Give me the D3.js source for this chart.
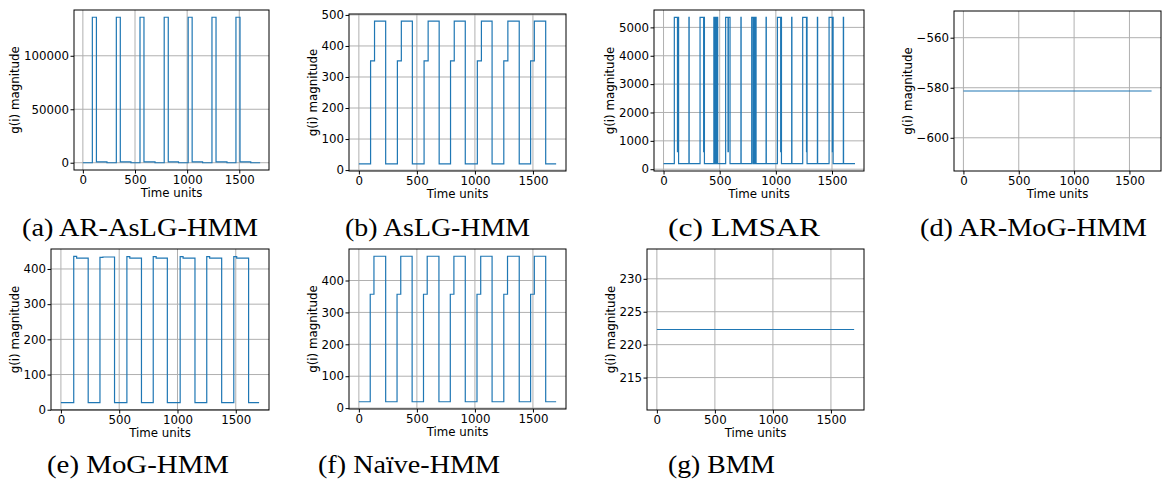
<!DOCTYPE html>
<html><head><meta charset="utf-8">
<script src="https://cdn.jsdelivr.net/npm/d3@7"></script>
<style>body{margin:0;background:#fff} svg{display:block;background:#fff}</style>
</head><body><svg id="c" width="1163" height="484"></svg>
<script>
// ---------- data (breakpoints of step series: time, value) ----------
const timeTicks = [0, 500, 1000, 1500];
const timeTickLabels = ["0", "500", "1000", "1500"];

// (a) AR-AsLG-HMM
const aTimes  = [0, 91, 130, 231, 321, 359, 461, 548, 586, 692, 780, 819, 917, 1010, 1048, 1148, 1238, 1277, 1382, 1468, 1507, 1610, 1700];
const aValues = [0, 136000, 800, 0, 136000, 800, 0, 136000, 800, 0, 136000, 800, 0, 136000, 800, 0, 136000, 800, 0, 136000, 800, 0, 0];
const aYTicks = [0, 50000, 100000];
const aYTickLabels = ["0", "50000", "100000"];

// (b) AsLG-HMM
const bTimes  = [0, 101, 135, 231, 332, 366, 461, 562, 597, 692, 790, 822, 917, 1021, 1056, 1148, 1249, 1284, 1382, 1480, 1512, 1610, 1700];
const bValues = [20, 352, 480, 20, 352, 480, 20, 352, 480, 20, 352, 480, 20, 352, 480, 20, 352, 480, 20, 352, 480, 20, 20];
const bYTicks = [0, 100, 200, 300, 400, 500];
const bYTickLabels = ["0", "100", "200", "300", "400", "500"];

// (c) LMSAR
const cTimes  = [0, 96, 124, 127, 134, 226, 228, 325, 357, 359, 364,
                 448, 450, 452, 454, 456, 458, 460, 462, 464, 466, 468, 470, 472, 474, 476, 478, 480, 482,
                 553, 574, 577, 592, 689, 691,
                 785, 797, 799, 802, 804, 806, 808, 810, 812, 814, 816, 818, 820, 824,
                 913, 915, 1014, 1043, 1045, 1050, 1141, 1143, 1239, 1273, 1275, 1278, 1370, 1372,
                 1474, 1503, 1505, 1510, 1601, 1603, 1705];
const cValues = [195, 5355, 615, 5355, 195, 5355, 195, 5355, 615, 5355, 195,
                 5355, 195, 5355, 195, 5355, 195, 5355, 195, 5355, 195, 5355, 195, 5355, 195, 5355, 195, 5355, 195,
                 5355, 615, 5355, 195, 5355, 195,
                 5355, 195, 5355, 195, 5355, 195, 5355, 195, 5355, 195, 5355, 195, 5355, 195,
                 5355, 195, 5355, 615, 5355, 195, 5355, 195, 5355, 615, 5355, 195, 5355, 195,
                 5355, 615, 5355, 195, 5355, 195, 195];
const cYTicks = [0, 1000, 2000, 3000, 4000, 5000];
const cYTickLabels = ["0", "1000", "2000", "3000", "4000", "5000"];

// (d) AR-MoG-HMM
const dTimes  = [0, 1700];
const dValues = [-581.3, -581.3];
const dYTicks = [-600, -580, -560];
const dYTickLabels = ["\u2212600", "\u2212580", "\u2212560"];

// (e) MoG-HMM
const eTimes  = [0, 110, 135, 234, 335, 360, 460, 566, 591, 691, 792, 817, 913, 1023, 1048, 1150, 1251, 1276, 1379, 1483, 1508, 1610, 1700];
const eValues = [20, 436, 431, 20, 433, 434, 20, 435, 431, 20, 435, 431, 20, 435, 431, 20, 435, 431, 20, 435, 431, 20, 20];
const eYTicks = [0, 100, 200, 300, 400];
const eYTickLabels = ["0", "100", "200", "300", "400"];

// (f) Naïve-HMM
const fTimes  = [0, 98, 130, 231, 329, 361, 459, 557, 589, 690, 788, 819, 917, 1018, 1050, 1148, 1249, 1281, 1382, 1480, 1512, 1610, 1700];
const fValues = [20, 357, 476, 20, 357, 476, 20, 357, 476, 20, 357, 476, 20, 357, 476, 20, 357, 476, 20, 357, 476, 20, 20];
const fYTicks = [0, 100, 200, 300, 400];
const fYTickLabels = ["0", "100", "200", "300", "400"];

// (g) BMM
const gTimes  = [0, 1700];
const gValues = [222.3, 222.3];
const gYTicks = [215, 220, 225, 230];
const gYTickLabels = ["215", "220", "225", "230"];

const captions = ["(a) AR-AsLG-HMM", "(b) AsLG-HMM", "(c) LMSAR", "(d) AR-MoG-HMM", "(e) MoG-HMM", "(f) Na\u00efve-HMM", "(g) BMM"];

// ---------- layout ----------
const panels = [
  {t: aTimes, v: aValues, yt: aYTicks, yl: aYTickLabels, L: 74,  R: 269,  T: 10,  B: 170, cap: captions[0], cx: 140,   cy: 236, cw: 236},
  {t: bTimes, v: bValues, yt: bYTicks, yl: bYTickLabels, L: 349, R: 566,  T: 14,  B: 171, cap: captions[1], cx: 437.5, cy: 236, cw: 185},
  {t: cTimes, v: cValues, yt: cYTicks, yl: cYTickLabels, L: 654, R: 864,  T: 10,  B: 171, cap: captions[2], cx: 744,   cy: 236, cw: 152},
  {t: dTimes, v: dValues, yt: dYTicks, yl: dYTickLabels, L: 954, R: 1161, T: 11,  B: 171, cap: captions[3], cx: 1033.5, cy: 236, cw: 227},
  {t: eTimes, v: eValues, yt: eYTicks, yl: eYTickLabels, L: 51,  R: 269,  T: 249, B: 410, cap: captions[4], cx: 138,   cy: 473, cw: 182},
  {t: fTimes, v: fValues, yt: fYTicks, yl: fYTickLabels, L: 349, R: 566,  T: 249, B: 409, cap: captions[5], cx: 409,   cy: 473, cw: 182},
  {t: gTimes, v: gValues, yt: gYTicks, yl: gYTickLabels, L: 647, R: 864,  T: 249, B: 410, cap: captions[6], cx: 721.5, cy: 473, cw: 107}
];

const svg = d3.select("#c");
const FONT = "'DejaVu Sans', sans-serif";
const FS = 11.8;

function yDomain(vals) {
  let lo = d3.min(vals), hi = d3.max(vals);
  if (lo === hi) { const e = Math.abs(lo) * 0.05 || 1; lo -= e; hi += e; }
  const p = (hi - lo) * 0.05;
  return [lo - p, hi + p];
}

panels.forEach(p => {
  const g = svg.append("g");
  const x = d3.scaleLinear().domain([-85, 1785]).range([p.L, p.R]);
  const y = d3.scaleLinear().domain(yDomain(p.v)).range([p.B, p.T]);

  // grid
  g.selectAll(".gx").data(timeTicks).join("line")
    .attr("x1", d => x(d)).attr("x2", d => x(d)).attr("y1", p.T).attr("y2", p.B)
    .attr("stroke", "#b0b0b0").attr("stroke-width", 1);
  g.selectAll(".gy").data(p.yt).join("line")
    .attr("y1", d => y(d)).attr("y2", d => y(d)).attr("x1", p.L).attr("x2", p.R)
    .attr("stroke", "#b0b0b0").attr("stroke-width", 1);

  // data line
  const pts = p.t.map((t, i) => [t, p.v[i]]);
  g.append("path").datum(pts)
    .attr("d", d3.line().x(d => x(d[0])).y(d => y(d[1])).curve(d3.curveStepAfter))
    .attr("fill", "none").attr("stroke", "#1f77b4").attr("stroke-width", 1.2);

  // axes
  const xa = g.append("g").attr("transform", `translate(0,${p.B})`)
    .call(d3.axisBottom(x).tickValues(timeTicks).tickFormat((d, i) => timeTickLabels[i]).tickSize(3.5).tickPadding(2.2));
  const ya = g.append("g").attr("transform", `translate(${p.L},0)`)
    .call(d3.axisLeft(y).tickValues(p.yt).tickFormat((d, i) => p.yl[i]).tickSize(3.5).tickPadding(1.5));
  [xa, ya].forEach(a => {
    a.select(".domain").remove();
    a.selectAll("text").attr("font-family", FONT).attr("font-size", FS).attr("fill", "#000");
    a.selectAll("line").attr("stroke", "#000").attr("stroke-width", 1);
  });
  let maxw = 0;
  ya.selectAll("text").each(function () { maxw = Math.max(maxw, this.getComputedTextLength()); });

  // spines
  g.append("rect").attr("x", p.L).attr("y", p.T).attr("width", p.R - p.L).attr("height", p.B - p.T)
    .attr("fill", "none").attr("stroke", "#000").attr("stroke-width", 1);

  // labels
  g.append("text").attr("x", (p.L + p.R) / 2).attr("y", p.B + 26.5)
    .attr("text-anchor", "middle").attr("font-family", FONT).attr("font-size", FS).text("Time units");
  const lx = p.L - 5 - maxw - 8.5;
  g.append("text").attr("transform", `translate(${lx},${(p.T + p.B) / 2}) rotate(-90)`)
    .attr("text-anchor", "middle").attr("dominant-baseline", "central")
    .attr("font-family", FONT).attr("font-size", FS).text("g(i) magnitude");

  // caption
  svg.append("text").attr("x", p.cx).attr("y", p.cy).attr("text-anchor", "middle")
    .attr("font-family", "'Liberation Serif', serif").attr("font-size", 26)
    .attr("textLength", p.cw).attr("lengthAdjust", "spacingAndGlyphs")
    .text(p.cap);
});
</script></body></html>
